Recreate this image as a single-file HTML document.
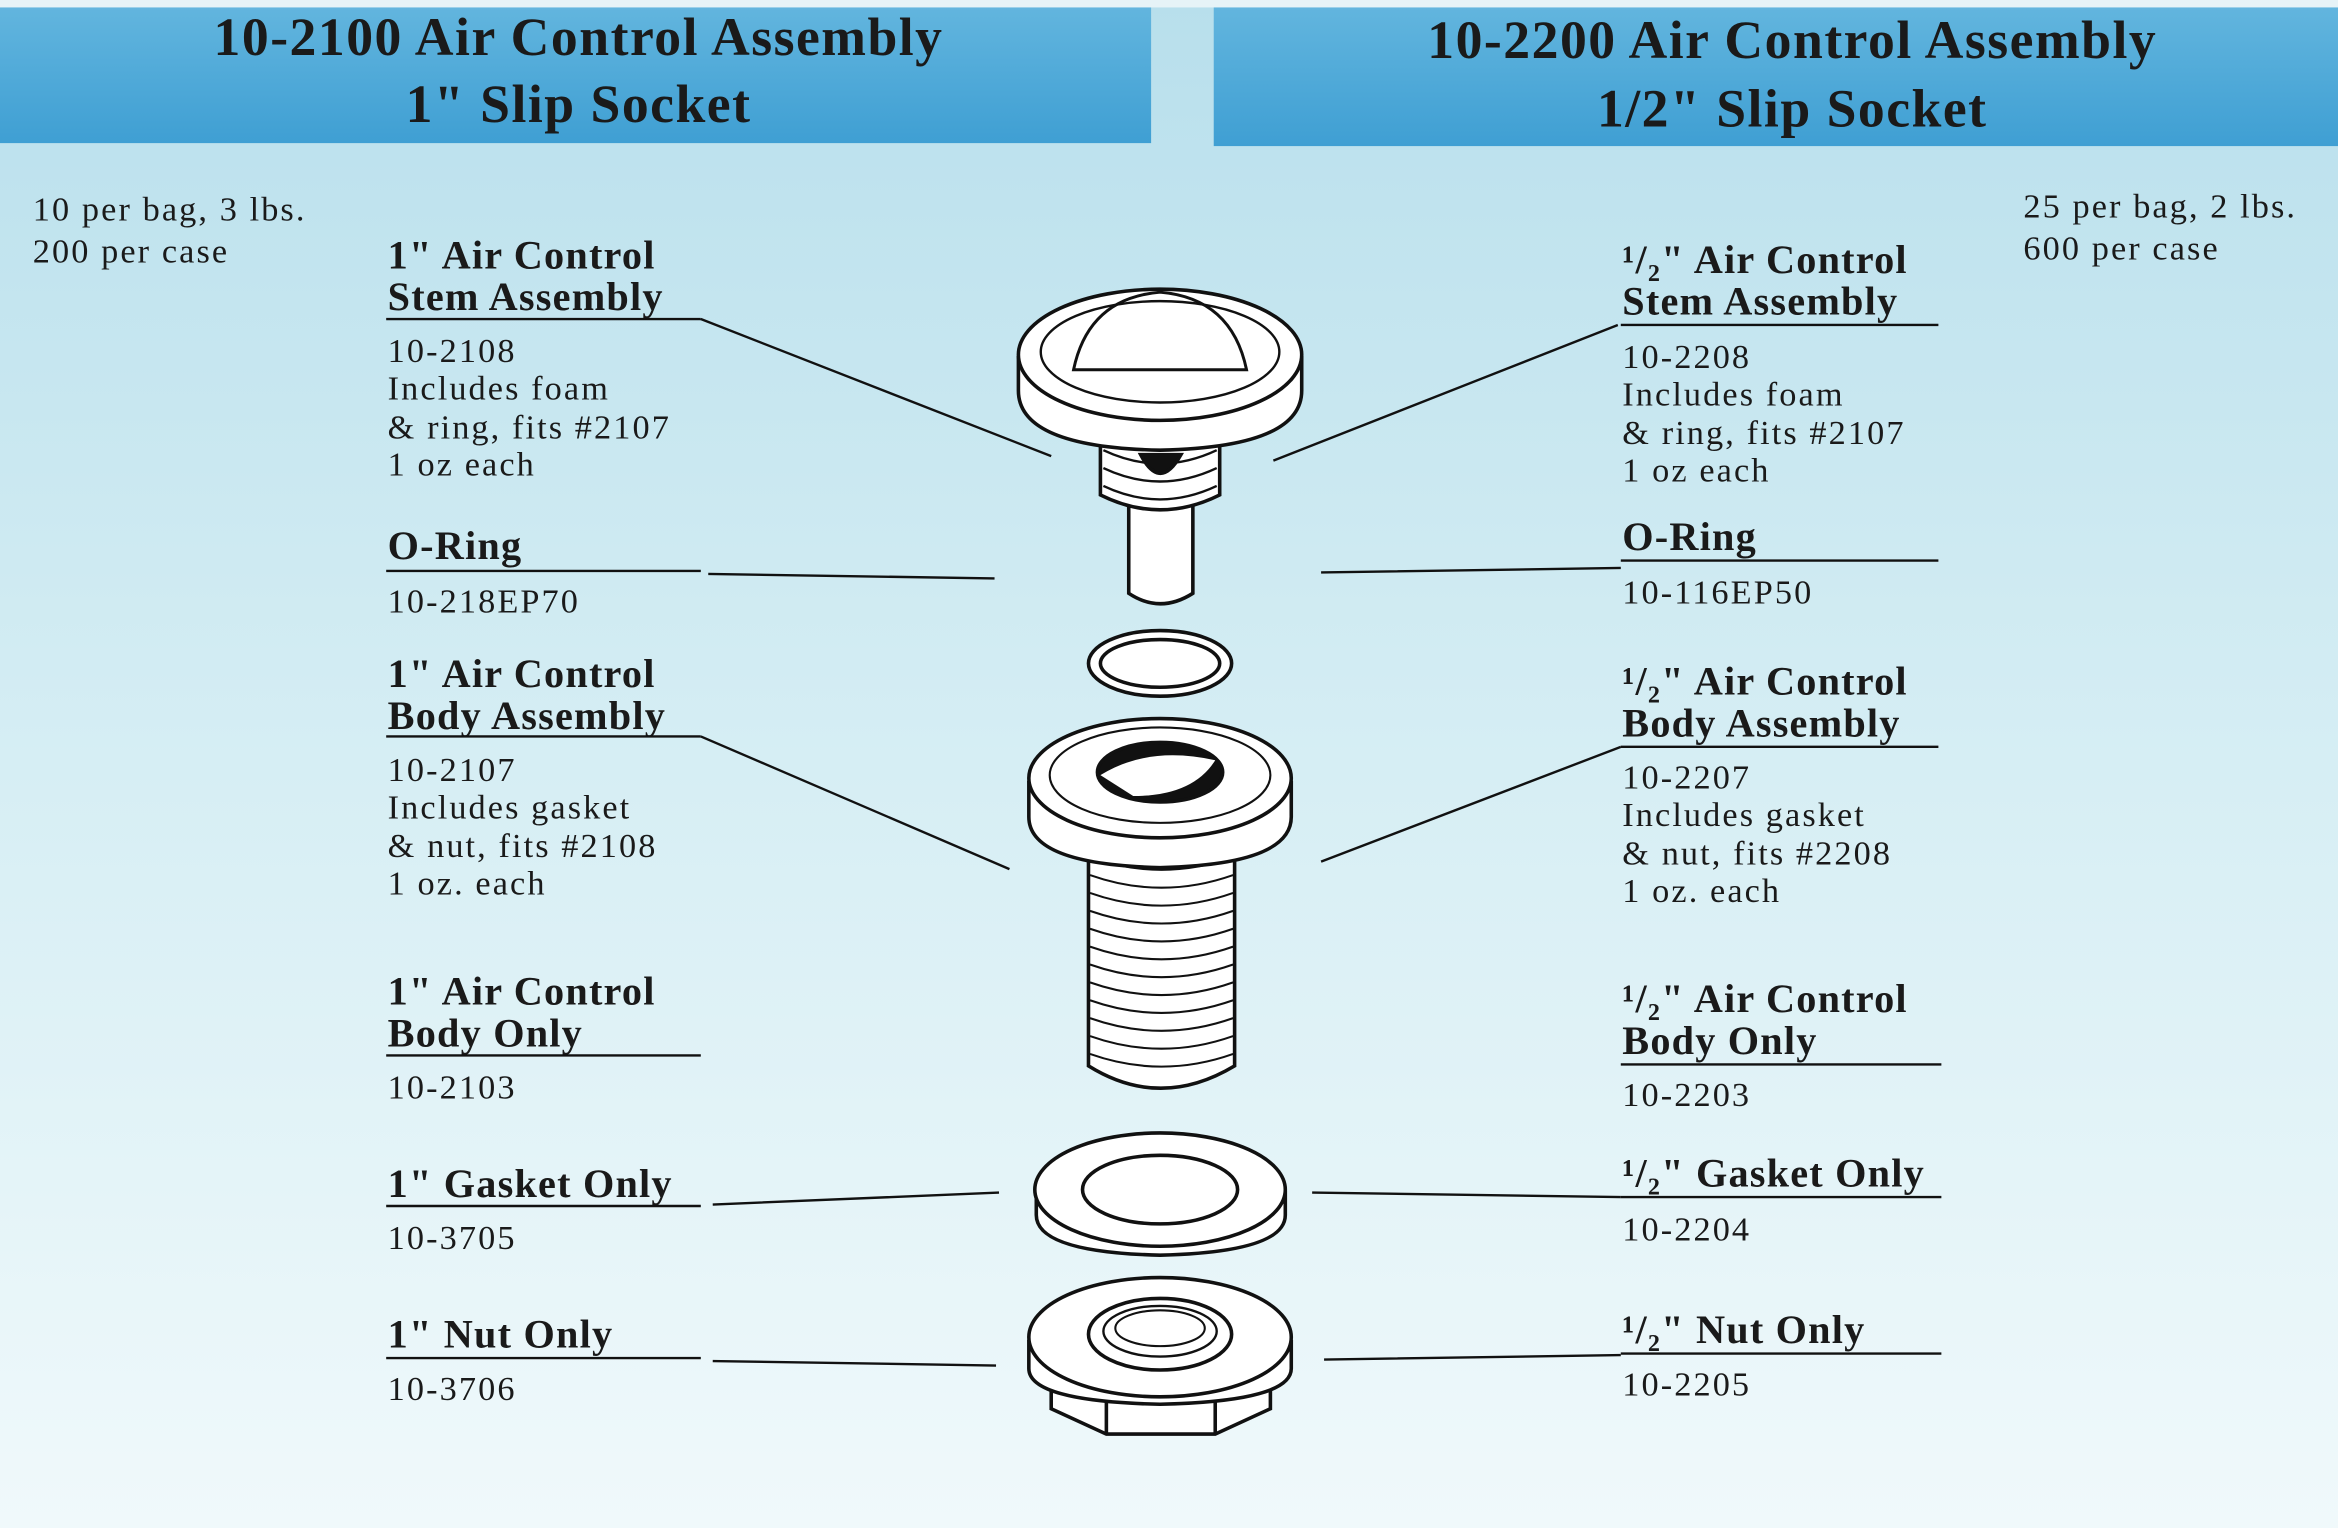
<!DOCTYPE html>
<html><head><meta charset="utf-8"><style>
html,body{margin:0;padding:0;width:2338px;height:1528px;overflow:hidden;background:#e8f6f9}
svg{display:block}
text{font-family:"Liberation Serif",serif;fill:#1a1a1a}
.b{font-weight:bold;font-size:27px;letter-spacing:0.8px}
.n{font-size:23px;letter-spacing:1.4px}
.h{font-weight:bold;font-size:36px;letter-spacing:1px}
</style></head><body>
<svg width="2338" height="1528" viewBox="0 0 1568 1025" preserveAspectRatio="none" xmlns="http://www.w3.org/2000/svg">
<defs>
<linearGradient id="bg" x1="0" y1="0" x2="0" y2="1">
<stop offset="0" stop-color="#b8dfec"/><stop offset="0.5" stop-color="#d6eef4"/><stop offset="1" stop-color="#f0f9fb"/>
</linearGradient>
<linearGradient id="hd" x1="0" y1="0" x2="0" y2="1">
<stop offset="0" stop-color="#62b5de"/><stop offset="1" stop-color="#3f9fd3"/>
</linearGradient>
</defs>
<rect width="1568" height="1025" fill="url(#bg)"/>
<rect width="1568" height="5" fill="#e6f3f7"/>
<rect x="0" y="5" width="772" height="91" fill="url(#hd)"/>
<rect x="814" y="5" width="754" height="93" fill="url(#hd)"/>
<text class="h" x="388" y="37" text-anchor="middle">10-2100 Air Control Assembly</text>
<text class="h" x="388" y="82" text-anchor="middle">1" Slip Socket</text>
<text class="h" x="1202" y="39" text-anchor="middle">10-2200 Air Control Assembly</text>
<text class="h" x="1202" y="85" text-anchor="middle">1/2" Slip Socket</text>
<text class="n" x="22" y="148">10 per bag, 3 lbs.</text>
<text class="n" x="22" y="176">200 per case</text>
<text class="n" x="1357" y="146">25 per bag, 2 lbs.</text>
<text class="n" x="1357" y="174">600 per case</text>

<g>
<text class="b" x="260" y="180">1" Air Control</text>
<text class="b" x="260" y="208">Stem Assembly</text>
<text class="n" x="260" y="243">10-2108</text>
<text class="n" x="260" y="268">Includes foam</text>
<text class="n" x="260" y="294">&amp; ring, fits #2107</text>
<text class="n" x="260" y="319">1 oz each</text>
<text class="b" x="260" y="375">O-Ring</text>
<text class="n" x="260" y="411">10-218EP70</text>
<text class="b" x="260" y="461">1" Air Control</text>
<text class="b" x="260" y="489">Body Assembly</text>
<text class="n" x="260" y="524">10-2107</text>
<text class="n" x="260" y="549">Includes gasket</text>
<text class="n" x="260" y="575">&amp; nut, fits #2108</text>
<text class="n" x="260" y="600">1 oz. each</text>
<text class="b" x="260" y="674">1" Air Control</text>
<text class="b" x="260" y="702">Body Only</text>
<text class="n" x="260" y="737">10-2103</text>
<text class="b" x="260" y="803">1" Gasket Only</text>
<text class="n" x="260" y="838">10-3705</text>
<text class="b" x="260" y="904">1" Nut Only</text>
<text class="n" x="260" y="939">10-3706</text>
</g>
<g>
<text class="b" x="1088" y="183">¹/₂" Air Control</text>
<text class="b" x="1088" y="211">Stem Assembly</text>
<text class="n" x="1088" y="247">10-2208</text>
<text class="n" x="1088" y="272">Includes foam</text>
<text class="n" x="1088" y="298">&amp; ring, fits #2107</text>
<text class="n" x="1088" y="323">1 oz each</text>
<text class="b" x="1088" y="369">O-Ring</text>
<text class="n" x="1088" y="405">10-116EP50</text>
<text class="b" x="1088" y="466">¹/₂" Air Control</text>
<text class="b" x="1088" y="494">Body Assembly</text>
<text class="n" x="1088" y="529">10-2207</text>
<text class="n" x="1088" y="554">Includes gasket</text>
<text class="n" x="1088" y="580">&amp; nut, fits #2208</text>
<text class="n" x="1088" y="605">1 oz. each</text>
<text class="b" x="1088" y="679">¹/₂" Air Control</text>
<text class="b" x="1088" y="707">Body Only</text>
<text class="n" x="1088" y="742">10-2203</text>
<text class="b" x="1088" y="796">¹/₂" Gasket Only</text>
<text class="n" x="1088" y="832">10-2204</text>
<text class="b" x="1088" y="901">¹/₂" Nut Only</text>
<text class="n" x="1088" y="936">10-2205</text>
</g>

<g stroke="#111" stroke-width="1.6" fill="none">
<path d="M259 214H470M259 383H470M259 494H470M259 708H470M259 809H470M259 911H470"/>
<path d="M1087 218H1300M1087 376H1300M1087 501H1300M1087 714H1302M1087 803H1302M1087 908H1302"/>
<path d="M470 214L705 306M475 385L667 388M470 494L677 583M478 808L670 800M478 913L668 916"/>
<path d="M1085 218L854 309M886 384L1087 381M1087 501L886 578M880 800L1087 803M888 912L1087 909"/>
</g>

<g stroke="#111" stroke-width="2.4" fill="#fff">
<path d="M757 320V398Q778 412 800 398V320Z"/>
<path d="M738 290V332Q778 352 818 332V290Z"/>
<path d="M740 302Q778 320 816 302M740 314Q778 332 816 314M740 326Q778 344 816 326" fill="none" stroke-width="1.6"/>
<path d="M765 305Q778 330 792 305Z" fill="#111"/>
<path d="M683 240V262Q683 300 778 302Q873 300 873 262V240Z"/>
<ellipse cx="778" cy="238" rx="95" ry="44"/>
<ellipse cx="778" cy="236" rx="80" ry="34" fill="none" stroke-width="1.6"/>
<path d="M720 248Q730 200 778 196Q826 200 836 248Z" fill="none" stroke-width="2"/>
<ellipse cx="778" cy="445" rx="48" ry="22"/>
<ellipse cx="778" cy="445" rx="40" ry="16"/>
<path d="M730 560V715Q778 745 828 715V560Z"/>
<path d="M731 575Q779 592 827 575M731 587Q779 604 827 587M731 599Q779 616 827 599M731 611Q779 628 827 611M731 623Q779 640 827 623M731 635Q779 652 827 635M731 647Q779 664 827 647M731 659Q779 676 827 659M731 671Q779 688 827 671M731 683Q779 700 827 683M731 695Q779 712 827 695M731 707Q779 724 827 707" fill="none" stroke-width="1.4"/>
<path d="M690 525V548Q690 580 778 582Q866 580 866 548V525Z"/>
<ellipse cx="778" cy="522" rx="88" ry="40"/>
<ellipse cx="778" cy="520" rx="74" ry="32" fill="none" stroke-width="1.4"/>
<ellipse cx="778" cy="518" rx="42" ry="20" fill="#111"/>
<path d="M738 520Q770 500 815 510Q800 534 760 534Z" fill="#fff" stroke="none"/>
<path d="M695 800V815Q695 840 778 842Q862 840 862 815V800Z"/>
<ellipse cx="778" cy="798" rx="84" ry="38"/>
<ellipse cx="778" cy="798" rx="52" ry="23"/>
<path d="M705 925V945L742 962H815L852 945V925Z"/>
<path d="M742 940V962M815 940V962" fill="none"/>
<path d="M690 900V918Q690 940 778 942Q866 940 866 918V900Z"/>
<ellipse cx="778" cy="897" rx="88" ry="40"/>
<ellipse cx="778" cy="895" rx="48" ry="24"/>
<ellipse cx="778" cy="893" rx="38" ry="17" fill="none" stroke-width="1.6"/>
<ellipse cx="778" cy="891" rx="30" ry="12" fill="none" stroke-width="1.4"/>
</g>
</svg>
</body></html>
